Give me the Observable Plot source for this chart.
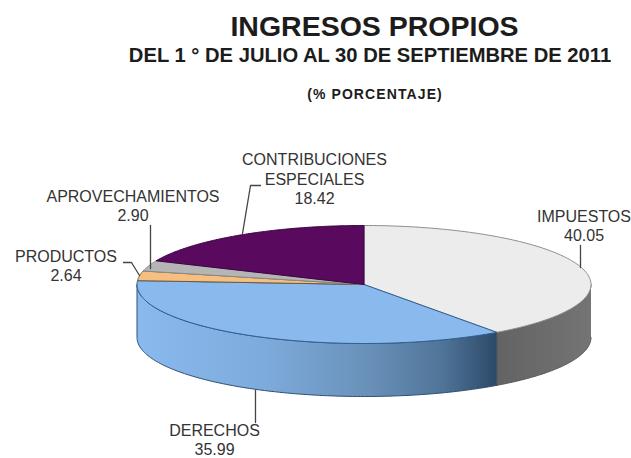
<!DOCTYPE html>
<html>
<head>
<meta charset="utf-8">
<script src="https://cdn.jsdelivr.net/npm/d3@7"></script>
<script src="https://cdn.jsdelivr.net/npm/@observablehq/plot@0.6"></script>
<style>
  html, body { margin: 0; padding: 0; background: #fff; }
  #wrap { width: 631px; height: 458px; position: relative; overflow: hidden; font-family: "Liberation Sans", Arial, sans-serif; color: #1c1c1c; }
  #head { height: 115px; position: relative; }
  #head div { position: absolute; left: 0; white-space: nowrap; font-weight: bold; text-align: center; }
  #t1 { top: 10px; width: 749px; font-size: 28.5px; line-height: 32px; }
  #t2 { top: 43px; width: 740px; font-size: 20.2px; line-height: 24px; }
  #t3 { top: 86px; width: 750px; font-size: 14px; line-height: 16px; letter-spacing: 1.1px; }
  svg { display: block; }
</style>
</head>
<body>
<div id="wrap">
  <div id="head">
    <div id="t1">INGRESOS PROPIOS</div>
    <div id="t2">DEL 1 ° DE JULIO AL 30 DE SEPTIEMBRE DE 2011</div>
    <div id="t3">(% PORCENTAJE)</div>
  </div>
  <div id="chart"></div>
</div>
<script>
// Data, clockwise from the top of the pie
const categories = ["IMPUESTOS", "DERECHOS", "PRODUCTOS", "APROVECHAMIENTOS", "CONTRIBUCIONES\nESPECIALES"];
const values = [40.05, 35.99, 2.64, 2.90, 18.42];
const faceColors = ["#ececec", "#8ab9ee", "#f6bf80", "#b5b5b5", "#5a0a5e"];
const edgeColors = ["#8f8f8f", "#2f5f94", "#6b5a40", "#8a8a8a", "#3a0540"];

// Layout of the tilted disc and labels
const cx = 363.5, cy = 284, rx = 227, ry = 59, depth = 53;
const labelX = [583.5, 214, 65.5, 132.5, 314];
const labelY = [225, 439, 264.5, 204.5, 178];
const leaders = [
  [[580, 245], [580, 267]],
  [[255, 390], [255, 422]],
  [[123, 262], [131, 262], [139, 275]],
  [[150, 225], [150, 268]],
  [[260, 185], [250, 185], [242, 233]]
];

const arcs = d3.pie().sort(null).value(d => d).startAngle(0).endAngle(2 * Math.PI)(values);
const rim = (a, dy = 0) => ({x: cx + rx * Math.sin(a), y: cy - ry * Math.cos(a) + dy});
const arcPts = (a0, a1, dy = 0) => d3.range(0, 121).map(i => rim(a0 + (a1 - a0) * i / 120, dy));

// Closed outline of each top face
const faces = arcs.map(s => [{x: cx, y: cy}, ...arcPts(s.startAngle, s.endAngle), {x: cx, y: cy}]);

// Front wall pieces: only the part of the rim facing the viewer
const wall = (a0, a1) => {
  const lo = Math.max(a0, Math.PI / 2), hi = Math.min(a1, 3 * Math.PI / 2);
  return [...arcPts(lo, hi), ...arcPts(hi, lo, depth)];
};
const walls = [wall(arcs[0].startAngle, arcs[0].endAngle), wall(arcs[1].startAngle, arcs[1].endAngle)];
const wallFills = ["url(#wallGrey)", "url(#wallBlue)"];
const wallEdges = ["#555555", "#2f4f74"];

const gradient = (id, x1, x2, stops) => {
  const g = d3.create("svg:linearGradient").attr("id", id)
    .attr("gradientUnits", "userSpaceOnUse")
    .attr("x1", x1).attr("x2", x2).attr("y1", 0).attr("y2", 0);
  stops.forEach(([o, c]) => g.append("stop").attr("offset", o).attr("stop-color", c));
  return g.node();
};

const labels = categories.map((c, i) => ({
  text: `${c}\n${values[i].toFixed(2)}`, x: labelX[i], y: labelY[i]
}));

const plot = Plot.plot({
  width: 631,
  height: 343,
  margin: 0,
  x: {type: "linear", domain: [0, 631], range: [0, 631], axis: null},
  y: {type: "linear", domain: [115, 458], range: [0, 343], axis: null},
  marks: [
    () => {
      const defs = d3.create("svg:defs");
      defs.append(() => gradient("wallGrey", 497, 590, [[0, "#636363"], [1, "#747474"]]));
      defs.append(() => gradient("wallBlue", 136, 497, [[0, "#8ab9ee"], [0.35, "#7eabdd"], [0.65, "#6890b8"], [0.85, "#4f7497"], [1, "#2c4868"]]));
      return defs.node();
    },
    ...walls.map((w, i) => Plot.line(w, {x: "x", y: "y", fill: wallFills[i], stroke: wallEdges[i], strokeWidth: 1})),
    ...faces.map((f, i) => Plot.line(f, {x: "x", y: "y", fill: faceColors[i], stroke: edgeColors[i], strokeWidth: 1})),
    ...leaders.map(l => Plot.line(l, {x: d => d[0], y: d => d[1], stroke: "#444", strokeWidth: 1.3})),
    Plot.text(labels, {
      x: "x", y: "y", text: "text",
      fontSize: 16, lineHeight: 1.2, fill: "#333",
      fontFamily: "'Liberation Sans', Arial, sans-serif"
    })
  ]
});
document.getElementById("chart").appendChild(plot);
</script>
</body>
</html>
